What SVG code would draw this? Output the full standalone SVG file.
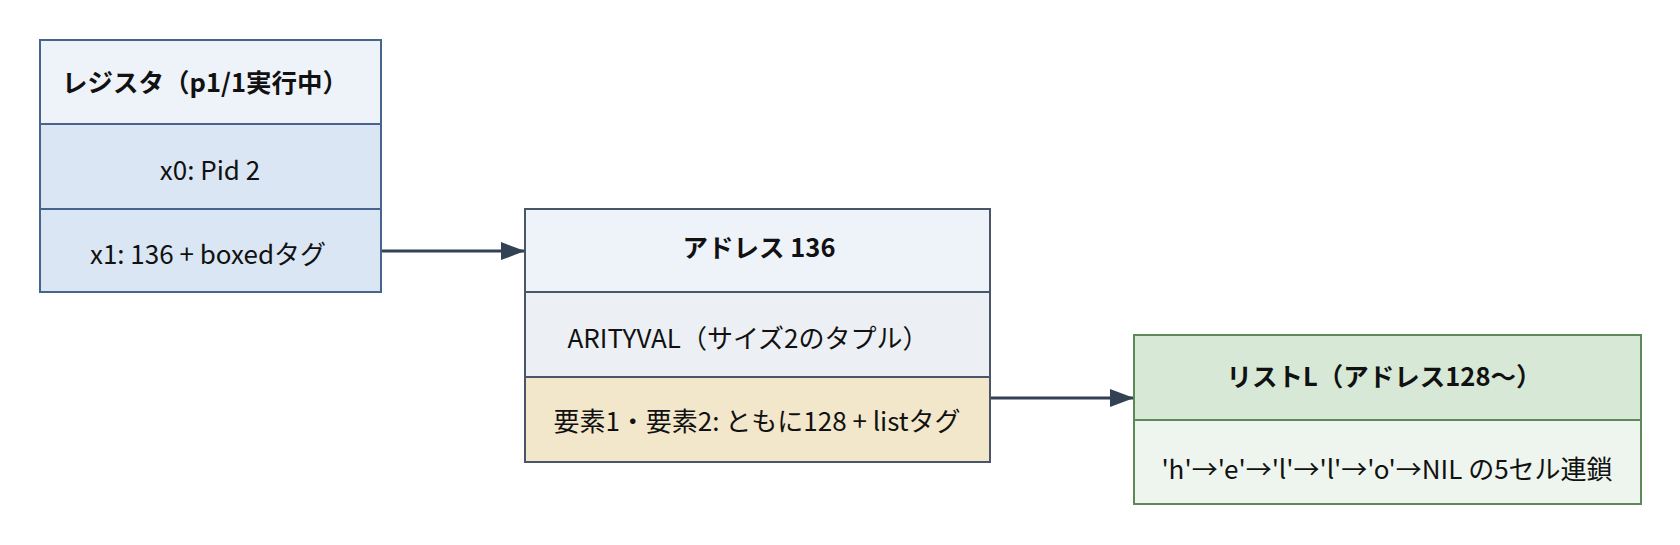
<svg xmlns="http://www.w3.org/2000/svg" width="1680" height="545" viewBox="0 0 1680 545">
<style>
text{font-family:"Noto Sans CJK JP","Noto Sans",sans-serif;font-size:26px;fill:#111;text-anchor:middle;dominant-baseline:central}
.t{font-weight:bold;font-size:25.5px}
.b{stroke:#46648c;stroke-width:2}
.g{stroke:#4a5568;stroke-width:2}
.v{stroke:#5b8a56;stroke-width:2}
.c{stroke:#334155;stroke-width:3;fill:none}
</style>
<defs>
<marker id="a" viewBox="0 0 24 18" refX="24" refY="9" markerWidth="24" markerHeight="18" markerUnits="userSpaceOnUse" orient="auto"><path d="M0,0L24,9L0,18z" fill="#334155"/></marker></defs>
<g id="connectors">
<path class="c" d="M381,251H525" marker-end="url(#a)"/>
<path class="c" d="M990,398H1134" marker-end="url(#a)"/>
</g>
<g id="registers">
<rect class="b" x="40" y="40" width="341" height="84" fill="#eef3fa"/>
<rect class="b" x="40" y="124" width="341" height="85" fill="#dae6f3"/>
<rect class="b" x="40" y="209" width="341" height="83" fill="#dae6f3"/>
<text class="t" x="205" y="80">レジスタ（p1/1実行中）</text>
<text x="210" y="168">x0: Pid 2</text>
<text x="208" y="252">x1: 136 + boxedタグ</text>
</g>
<g id="addr136">
<rect class="g" x="525" y="209" width="465" height="83" fill="#eef3fa"/>
<rect class="g" x="525" y="292" width="465" height="85" fill="#ecf0f5"/>
<rect class="g" x="525" y="377" width="465" height="85" fill="#f2e6cb"/>
<text class="t" x="759" y="245">アドレス 136</text>
<text x="748" y="336">ARITYVAL（サイズ2のタプル）</text>
<text x="757" y="419">要素1・要素2: ともに128 + listタグ</text>
</g>
<g id="listL">
<rect class="v" x="1134" y="335" width="507" height="85" fill="#d7e8d6"/>
<rect class="v" x="1134" y="420" width="507" height="84" fill="#eef5ee"/>
<text class="t" x="1384" y="374">リストL（アドレス128〜）</text>
<text x="1387" y="467">'h'→'e'→'l'→'l'→'o'→NIL の5セル連鎖</text>
</g>
</svg>
